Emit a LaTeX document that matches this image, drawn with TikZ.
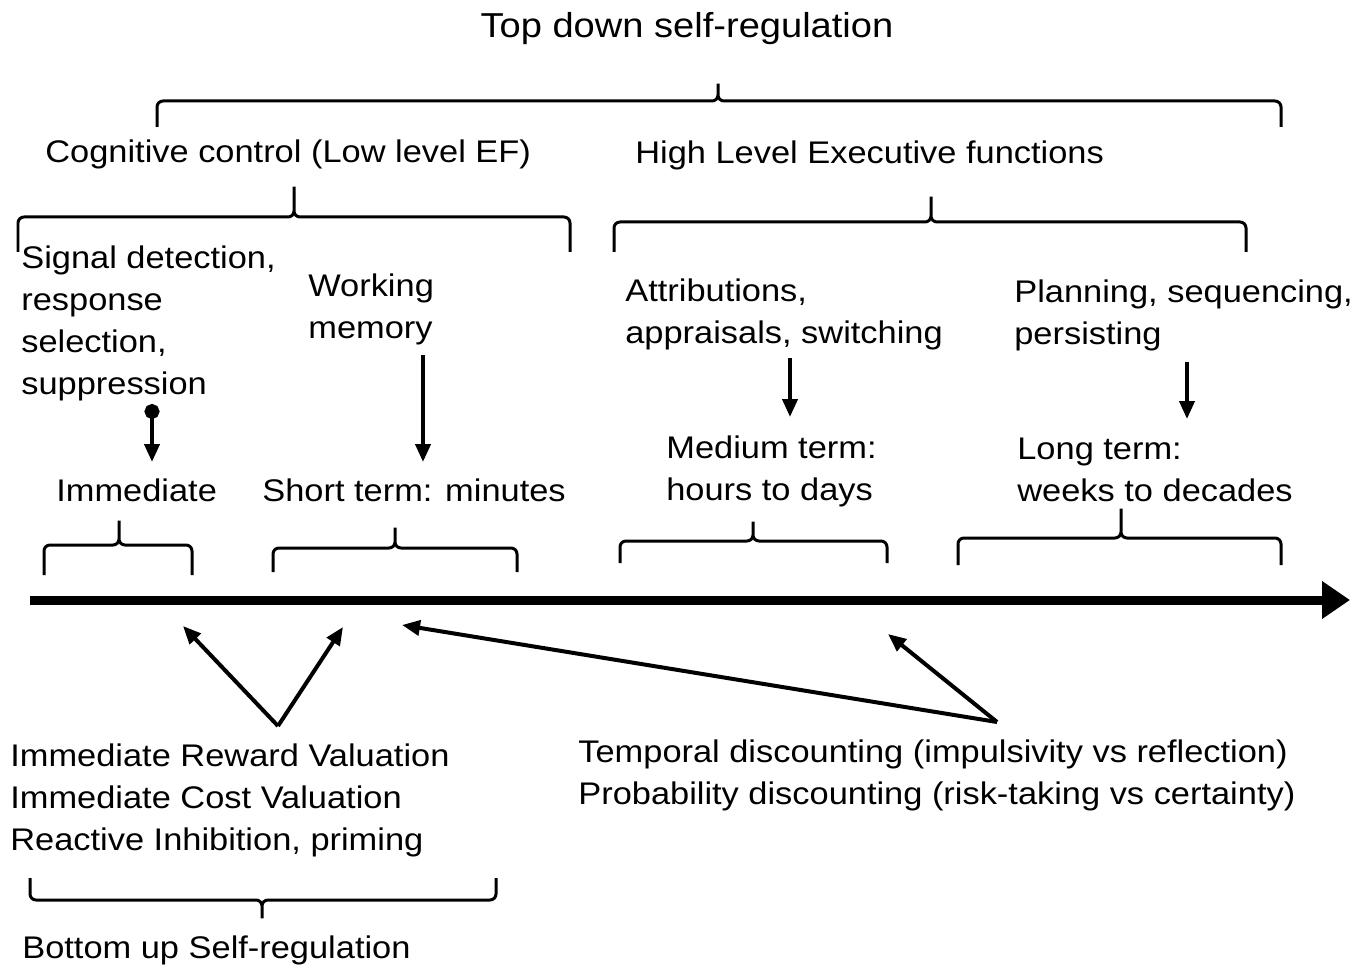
\documentclass[tikz,border=0pt]{standalone}
\usepackage{fontspec}
\setmainfont{Liberation Sans}[FakeStretch=1.1]
\usetikzlibrary{arrows.meta}
\begin{document}
\begin{tikzpicture}[x=0.02cm,y=-0.02cm,
  txt/.style={font=\fontsize{17.8}{23.9}\selectfont, inner sep=0pt, align=left, anchor=base west},
  bracepath/.style={line width=0.06cm, rounded corners=0.12cm},
  arr/.style={line width=0.08cm, -{Triangle[length=0.36cm,width=0.3cm]}},
  axis/.style={line width=0.18cm, -{Triangle[length=0.56cm 0,width=0.72cm 0]}}]
\useasboundingbox (0,0) rectangle (1368,969);

% texts (base anchor = baseline of last line)
\node[txt, anchor=base, font=\fontsize{19.7}{24}\selectfont] (top) at (687,38) {Top down self-regulation};
\node[txt] (cc) at (45,163) {Cognitive control (Low level EF)};
\node[txt] (hl) at (635,164) {High Level Executive functions};
\node[txt] (sig) at (21,394) {Signal detection,\\response\\selection,\\suppression};
\node[txt] (wm) at (308,338) {Working\\memory};
\node[txt] (attr) at (625,343) {Attributions,\\appraisals, switching};
\node[txt] (plan) at (1014,344) {Planning, sequencing,\\persisting};
\node[txt] (imm) at (56,501) {Immediate};
\node[txt] (short) at (262,501) {Short term: minutes};
\node[txt] (med) at (666,500) {Medium term:\\hours to days};
\node[txt] (long) at (1017,501) {Long term:\\weeks to decades};
\node[txt] (bot) at (10,850) {Immediate Reward Valuation\\Immediate Cost Valuation\\Reactive Inhibition, priming};
\node[txt] (temp) at (578,804) {Temporal discounting (impulsivity vs reflection)\\Probability discounting (risk-taking vs certainty)};
\node[txt] (bu) at (22,958) {Bottom up Self-regulation};

% braces (tick up)
\draw[bracepath] (157,127) |- (718,101) -- (718,80) -- (718,101) -| (1281,127);
\draw[bracepath] (18,252) |- (294,217) -- (294,183) -- (294,217) -| (570,252);
\draw[bracepath] (614,252) |- (931,222) -- (931,193) -- (931,222) -| (1246,252);
\draw[bracepath] (44,575) |- (119,545) -- (119,517) -- (119,545) -| (192,575);
\draw[bracepath] (273,572) |- (395,548) -- (395,524) -- (395,548) -| (517,572);
\draw[bracepath] (620,563) |- (753,541) -- (753,518) -- (753,541) -| (887,563);
\draw[bracepath] (958,565) |- (1121,538) -- (1121,505) -- (1121,538) -| (1281,565);
% brace (tick down)
\draw[bracepath] (30,878) |- (262,900) -- (262,922) -- (262,900) -| (496,878);

% axis
\coordinate (ax0) at (30,600);
\coordinate (ax1) at (1350,600);
\draw[axis] (ax0) -- (ax1);

% vertical arrows
\coordinate (s1) at (152,404); \coordinate (e1) at (152,462);
\draw[line width=0.08cm, {Circle[length=0.3cm]}-{Triangle[length=0.36cm,width=0.3cm]}] (s1) -- (e1);
\coordinate (s2) at (423,355); \coordinate (e2) at (423,462);
\draw[arr] (s2) -- (e2);
\coordinate (s3) at (790,358); \coordinate (e3) at (790,417);
\draw[arr] (s3) -- (e3);
\coordinate (s4) at (1187,362); \coordinate (e4) at (1187,419);
\draw[arr] (s4) -- (e4);

% diagonal arrows
\coordinate (v) at (278,726);
\coordinate (va) at (183,626);
\coordinate (vb) at (343,627);
\draw[arr] (v) -- (va);
\draw[arr] (v) -- (vb);
\coordinate (t) at (997,722);
\coordinate (ta) at (402,625);
\coordinate (tb) at (888,634);
\draw[arr] (t) -- (ta);
\draw[arr] (t) -- (tb);
\end{tikzpicture}
\end{document}
